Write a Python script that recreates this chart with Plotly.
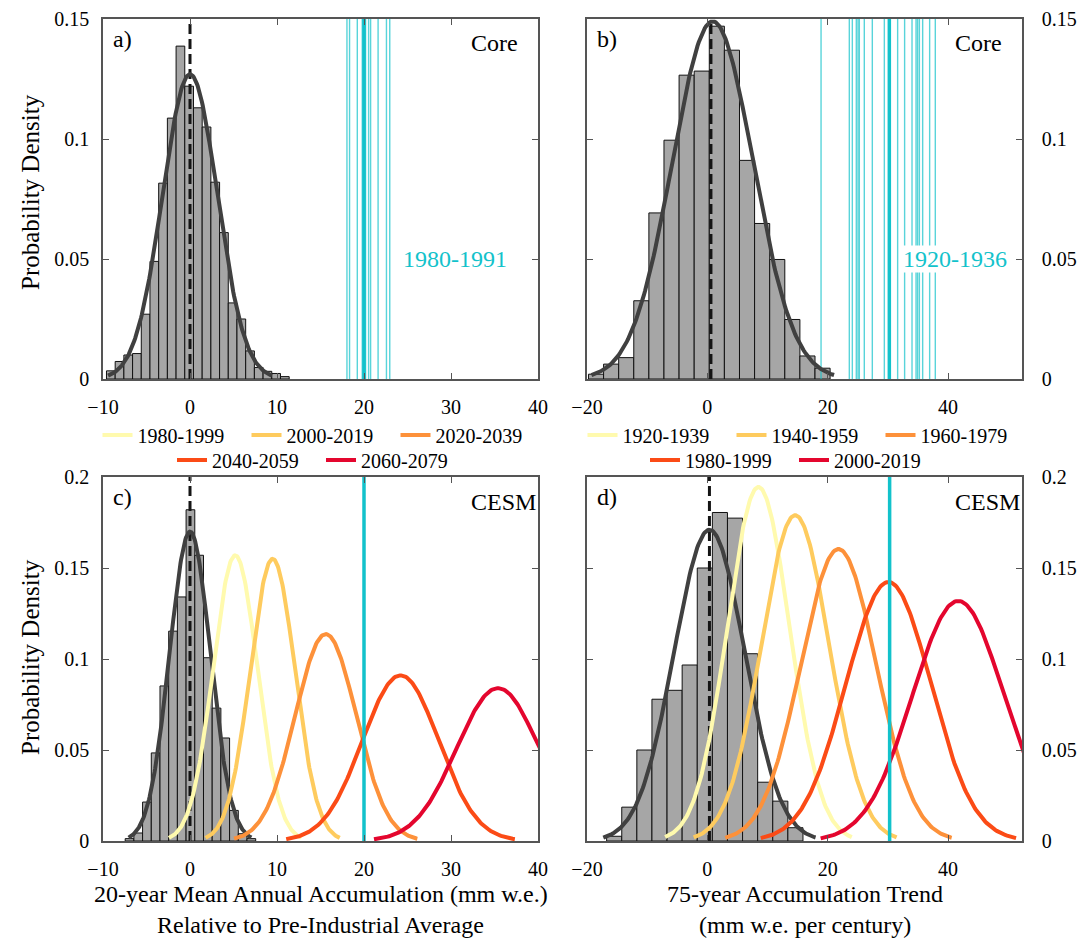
import numpy as np
import plotly.graph_objects as go

FONT = "Liberation Serif"
CYAN = "#12C2CB"

# ---------------- data ----------------
# Panel a: core 20-yr mean anomaly histogram
a_centers = [-9.1, -8.1, -7.1, -6.1, -5.1, -4.1, -3.1, -2.1, -1.1, -0.1, 0.9,
             1.9, 2.9, 3.9, 4.9, 5.9, 6.9, 7.9, 8.9, 9.9, 10.9]
a_heights = [0.0034, 0.0073, 0.010, 0.0106, 0.027, 0.049, 0.0816, 0.1087, 0.1387,
             0.122, 0.113, 0.105, 0.082, 0.061, 0.0317, 0.025, 0.0117, 0.0048,
             0.0032, 0.0023, 0.001]
a_binwidth = 1.0
a_fit = dict(mu=0.0, sd=3.14, peak=0.127)
a_years = [18.04, 18.34, 19.23, 19.8, 19.95, 20.07, 20.18, 20.53, 20.76, 21.62, 22.58, 22.96]
a_obs = 20.0

# Panel b: core 75-yr trend histogram
b_centers = [-18.5, -15.99, -13.48, -10.97, -8.46, -5.95, -3.44, -0.93, 1.58, 4.09,
             6.6, 9.11, 11.62, 14.13, 16.64, 19.15]
b_heights = [0.002, 0.0062, 0.0089, 0.0326, 0.0692, 0.0995, 0.1266, 0.1283, 0.147,
             0.137, 0.0911, 0.0648, 0.0498, 0.0248, 0.0096, 0.0045]
b_binwidth = 2.51
b_fit = dict(mu=0.9, sd=6.72, peak=0.149)
b_years = [18.9, 23.6, 24.1, 24.76, 25.04, 25.26, 26.09, 27.42, 29.42, 31.63, 32.79,
           34.02, 34.69, 34.95, 35.24, 35.79, 36.95, 37.89]
b_obs = 30.25

# Panel c: CESM 20-yr mean
c_centers = [-6.95, -5.95, -4.95, -3.95, -2.95, -1.95, -0.95, 0.05, 1.05, 2.05,
             3.05, 4.05, 5.05, 6.05, 7.05]
c_heights = [0.0013, 0.0044, 0.0214, 0.0484, 0.0852, 0.1153, 0.1341, 0.182, 0.157,
             0.1007, 0.073, 0.0566, 0.0168, 0.004, 0.0013]
c_binwidth = 1.0
c_fit = dict(mu=0.0, sd=2.35, peak=0.17)
c_periods = ["1980-1999", "2000-2019", "2020-2039", "2040-2059", "2060-2079"]
c_mus = [5.2, 9.5, 15.6, 24.2, 35.4]
c_sds = [2.54, 2.57, 3.51, 4.38, 4.75]
c_peaks = [0.157, 0.155, 0.1137, 0.091, 0.084]
c_obs = 20.0

# Panel d: CESM 75-yr trend
d_centers = [-15.48, -12.97, -10.46, -7.95, -5.44, -2.93, -0.42, 2.09, 4.6, 7.11,
             9.62, 12.13, 14.64]
d_heights = [0.0026, 0.0186, 0.05, 0.0779, 0.0828, 0.0967, 0.15, 0.1805, 0.1774,
             0.1029, 0.0323, 0.0219, 0.0073]
d_binwidth = 2.51
d_fit = dict(mu=0.35, sd=5.88, peak=0.171)
d_periods = ["1920-1939", "1940-1959", "1960-1979", "1980-1999", "2000-2019"]
d_mus = [8.5, 14.6, 21.8, 30.1, 41.7]
d_sds = [5.17, 5.62, 6.27, 7.07, 7.62]
d_peaks = [0.1945, 0.179, 0.1604, 0.1423, 0.1319]
d_obs = 30.3

period_colors = ["#FFFAAE", "#FECB5E", "#FD913A", "#FB4B16", "#E4062E"]

dash_pos = {"a": 0.0, "b": 0.6, "c": 0.0, "d": 0.35}
ymax = {"a": 0.15, "b": 0.15, "c": 0.2, "d": 0.2}
axn = {"a": ("x", "y"), "b": ("x2", "y2"), "c": ("x3", "y3"), "d": ("x4", "y4")}

fig = go.Figure()


def gauss(mu, sd, peak, n=200):
    xs = np.linspace(mu - 3 * sd, mu + 3 * sd, n)
    return xs, peak * np.exp(-0.5 * ((xs - mu) / sd) ** 2)


def add_hist(p, centers, heights, width, fit):
    xa, ya = axn[p]
    fig.add_trace(go.Bar(x=centers, y=heights, width=width, marker=dict(color="#A6A6A6",
                         line=dict(color="#111111", width=1)), xaxis=xa, yaxis=ya,
                         showlegend=False, hoverinfo="skip"))
    fig.add_trace(go.Scatter(x=[dash_pos[p], dash_pos[p]], y=[0, ymax[p]], mode="lines",
                             line=dict(color="#151515", width=3, dash="10px,5px"),
                             xaxis=xa, yaxis=ya, showlegend=False, hoverinfo="skip"))
    gx, gy = gauss(fit["mu"], fit["sd"], fit["peak"])
    fig.add_trace(go.Scatter(x=gx, y=gy, mode="lines", line=dict(color="#404040", width=4),
                             xaxis=xa, yaxis=ya, showlegend=False, hoverinfo="skip"))


def add_years(p, years, obs):
    xa, ya = axn[p]
    for v in years:
        fig.add_trace(go.Scatter(x=[v, v], y=[0, ymax[p]], mode="lines",
                                 line=dict(color="rgba(18,194,203,0.7)", width=1.4),
                                 xaxis=xa, yaxis=ya, showlegend=False, hoverinfo="skip"))
    fig.add_trace(go.Scatter(x=[obs, obs], y=[0, ymax[p]], mode="lines",
                             line=dict(color=CYAN, width=3.5),
                             xaxis=xa, yaxis=ya, showlegend=False, hoverinfo="skip"))


def add_periods(p, periods, mus, sds, peaks, legs):
    xa, ya = axn[p]
    for i, (name, mu, sd, pk) in enumerate(zip(periods, mus, sds, peaks)):
        gx, gy = gauss(mu, sd, pk)
        fig.add_trace(go.Scatter(x=gx, y=gy, mode="lines", name=name,
                                 line=dict(color=period_colors[i], width=4),
                                 xaxis=xa, yaxis=ya, legend=legs[0] if i < 3 else legs[1],
                                 hoverinfo="skip"))


add_years("a", a_years, a_obs)
add_hist("a", a_centers, a_heights, a_binwidth, a_fit)
add_years("b", b_years, b_obs)
add_hist("b", b_centers, b_heights, b_binwidth, b_fit)
add_hist("c", c_centers, c_heights, c_binwidth, c_fit)
add_periods("c", c_periods, c_mus, c_sds, c_peaks, ("legend", "legend2"))
add_hist("d", d_centers, d_heights, d_binwidth, d_fit)
add_periods("d", d_periods, d_mus, d_sds, d_peaks, ("legend3", "legend4"))
for p, obs in (("c", c_obs), ("d", d_obs)):
    xa, ya = axn[p]
    fig.add_trace(go.Scatter(x=[obs, obs], y=[0, ymax[p]], mode="lines",
                             line=dict(color=CYAN, width=3.5), xaxis=xa, yaxis=ya,
                             showlegend=False, hoverinfo="skip"))

# page body margin (8px) is compensated: figure covers window pixels 8..1091 / 8..940
OFF = 8
W, H = 1091 - OFF, 940 - OFF


def px(p):
    return (p - OFF) / W


def py(p):
    return 1 - (p - OFF) / H


xdom_l = [px(103), px(538)]
xdom_r = [px(587), px(1022)]
ydom_t = [py(379), py(19)]
ydom_b = [py(841), py(477)]

tickfont = dict(family=FONT, size=20, color="black")
base = dict(showline=True, linecolor="#555555", linewidth=1.5, mirror="ticks",
            ticks="inside", ticklen=6, tickcolor="#555555", tickwidth=1.3,
            showgrid=False, zeroline=False, tickfont=tickfont, automargin=False,
            ticklabeloverflow="allow")


def xax(dom, anchor, rng, tickvals):
    return dict(base, domain=dom, anchor=anchor, range=rng, tickvals=tickvals,
                ticklabelstandoff=9)


def yax(dom, anchor, rng, tickvals, side):
    return dict(base, domain=dom, anchor=anchor, range=rng, tickvals=tickvals, side=side,
                ticklabelstandoff=8 if side == "left" else 14)


xt_l = [-10, 0, 10, 20, 30, 40]
xt_r = [-20, 0, 20, 40]
yt15 = [0, 0.05, 0.1, 0.15]
yt20 = [0, 0.05, 0.1, 0.15, 0.2]

legend_common = dict(orientation="h", xanchor="center", yanchor="middle",
                     font=dict(family=FONT, size=20, color="black"),
                     bgcolor="rgba(0,0,0,0)", itemwidth=30, entrywidth=104,
                     entrywidthmode="pixels")

annotations = []
for p, txt in (("a", "a)"), ("b", "b)"), ("c", "c)"), ("d", "d)")):
    xa, ya = axn[p]
    annotations.append(dict(text=txt, xref=xa + " domain", yref=ya + " domain", x=0.018,
                            y=0.945, xanchor="left", yanchor="middle", showarrow=False,
                            font=dict(family=FONT, size=24, color="black")))
for p, txt in (("a", "Core"), ("b", "Core"), ("c", "CESM"), ("d", "CESM")):
    xa, ya = axn[p]
    annotations.append(dict(text=txt, xref=xa + " domain", yref=ya + " domain", x=0.842,
                            y=0.932, xanchor="left", yanchor="middle", showarrow=False,
                            font=dict(family=FONT, size=24, color="black")))
annotations.append(dict(text="1980-1991", xref="x", yref="y", x=30.5, y=0.05,
                        showarrow=False, font=dict(family=FONT, size=24, color=CYAN)))
annotations.append(dict(text="1920-1936", xref="x2", yref="y2", x=41.2, y=0.05,
                        showarrow=False, bgcolor="white", borderpad=0,
                        font=dict(family=FONT, size=24, color=CYAN)))
for yc in (192, 657):
    annotations.append(dict(text="Probability Density", xref="paper", yref="paper",
                            x=px(30), y=py(yc), textangle=-90, showarrow=False,
                            xanchor="center", yanchor="middle",
                            font=dict(family=FONT, size=25, color="black")))
for xc, l1, l2 in ((320.5, "20-year Mean Annual Accumulation (mm w.e.)",
                    "Relative to Pre-Industrial Average"),
                   (804.5, "75-year Accumulation Trend", "(mm w.e. per century)")):
    annotations.append(dict(text=l1, xref="paper", yref="paper", x=px(xc), y=py(894),
                            showarrow=False, xanchor="center", yanchor="middle",
                            font=dict(family=FONT, size=24, color="black")))
    annotations.append(dict(text=l2, xref="paper", yref="paper", x=px(xc), y=py(925),
                            showarrow=False, xanchor="center", yanchor="middle",
                            font=dict(family=FONT, size=24, color="black")))

fig.update_layout(
    width=W, height=H, margin=dict(l=0, r=0, t=0, b=0, autoexpand=False),
    paper_bgcolor="white", plot_bgcolor="white", barmode="overlay",
    xaxis=xax(xdom_l, "y", [-10, 40], xt_l),
    yaxis=yax(ydom_t, "x", [0, 0.15], yt15, "left"),
    xaxis2=xax(xdom_r, "y2", [-20, 52.3], xt_r),
    yaxis2=yax(ydom_t, "x2", [0, 0.15], yt15, "right"),
    xaxis3=xax(xdom_l, "y3", [-10, 40], xt_l),
    yaxis3=yax(ydom_b, "x3", [0, 0.2], yt20, "left"),
    xaxis4=xax(xdom_r, "y4", [-20, 52.3], xt_r),
    yaxis4=yax(ydom_b, "x4", [0, 0.2], yt20, "right"),
    legend=dict(legend_common, x=px(321), y=py(435)),
    legend2=dict(legend_common, x=px(321), y=py(460)),
    legend3=dict(legend_common, x=px(806), y=py(435)),
    legend4=dict(legend_common, x=px(794), y=py(460)),
    annotations=annotations,
    font=dict(family=FONT),
)

fig.write_html("out.html")
